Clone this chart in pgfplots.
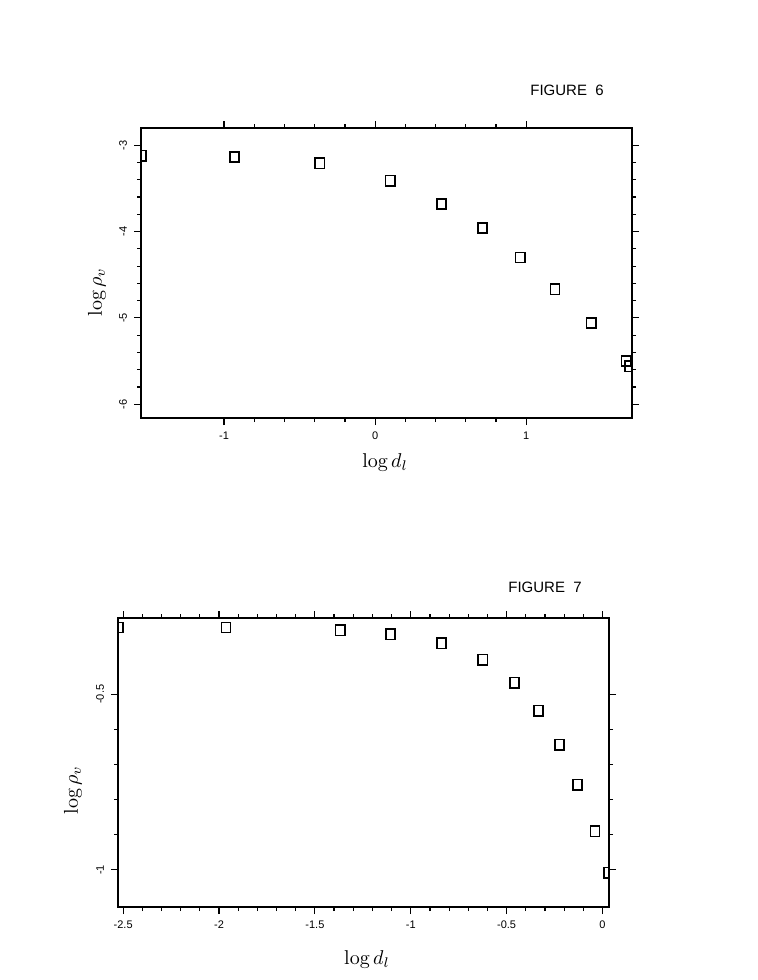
\documentclass[border=0pt]{standalone}
\usepackage{fontspec}
\usepackage{pgfplots}
\pgfplotsset{compat=1.18}
\newfontfamily\helv{Liberation Sans}

\pgfplotsset{
  figstyle/.style={
    scale only axis,
    width=245.5pt,
    clip marker paths=true,
    tick align=outside,
    major tick length=3.5pt,
    minor tick length=2pt,
    minor tick num=4,
    axis line style={line width=0.7pt},
    every tick/.style={line width=0.6pt, black},
    /pgf/number format/assume math mode=true,
    ticklabel style={font=\helv\fontsize{5.5}{6}\selectfont},
    yticklabel style={rotate=90, anchor=south},
    label style={font=\fontsize{10}{12}\selectfont},
  },
  sq/.style={black, only marks, mark=square, mark size=2.3pt,
    mark options={line width=0.8pt, solid, yscale=1.12}},
}

\begin{document}
\begin{tikzpicture}
\path[use as bounding box] (0pt,0pt) rectangle (379pt,-490pt);

% figure 6
\node[anchor=west, font=\helv\fontsize{7.5}{9}\selectfont, inner sep=0pt] at (265pt,-45pt) {FIGURE\ \ 6};
\begin{axis}[
  figstyle,
  at={(70.5pt,-209pt)}, anchor=south west,
  height=145pt,
  xmin=-1.55, xmax=1.70,
  ymin=-6.16, ymax=-2.80,
  xtick={-1,0,1},
  ytick={-6,-5,-4,-3},
  xlabel={$\log d_l$},
  ylabel={$\log \rho_v$},
  xlabel style={at={(axis description cs:0.497,-0.155)}, anchor=center},
  ylabel style={at={(axis description cs:-0.0896,0.434)}, anchor=center},
]
\addplot[sq] coordinates {
  (-1.549,-3.12) (-0.93,-3.136) (-0.366,-3.21) (0.099,-3.41) (0.44,-3.68)
  (0.71,-3.96) (0.96,-4.30) (1.19,-4.67) (1.43,-5.06) (1.66,-5.50) (1.685,-5.56)
};
\end{axis}

% figure 7
\node[anchor=west, font=\helv\fontsize{7.5}{9}\selectfont, inner sep=0pt] at (254pt,-293.5pt) {FIGURE\ \ 7};
\begin{axis}[
  figstyle,
  at={(59pt,-453.5pt)}, anchor=south west,
  height=144.5pt,
  xmin=-2.527, xmax=0.034,
  ymin=-1.106, ymax=-0.283,
  xtick={-2.5,-2,-1.5,-1,-0.5,0},
  ytick={-1,-0.5},
  xlabel={$\log d_l$},
  ylabel={$\log \rho_v$},
  xlabel style={at={(axis description cs:0.507,-0.183)}, anchor=center},
  ylabel style={at={(axis description cs:-0.0916,0.405)}, anchor=center},
]
\addplot[sq] coordinates {
  (-2.526,-0.31) (-1.964,-0.31) (-1.368,-0.318) (-1.106,-0.329) (-0.839,-0.355)
  (-0.624,-0.402) (-0.458,-0.467) (-0.334,-0.547) (-0.225,-0.644)
  (-0.130,-0.758) (-0.039,-0.890) (0.033,-1.008)
};
\end{axis}
\end{tikzpicture}
\end{document}
